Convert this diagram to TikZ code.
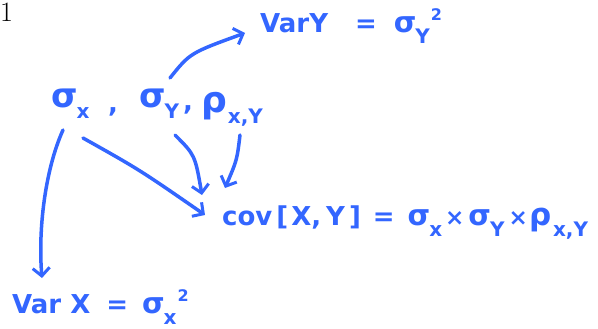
\documentclass[tikz,border=0pt]{standalone}
\usepackage{fontspec}
\newfontfamily\hand{DejaVu Sans}
\usetikzlibrary{arrows.meta}
\definecolor{ink}{HTML}{3366FF}
\newcommand{\lsb}[1]{\kern-1pt\raisebox{-11pt}[0pt][8pt]{\fontsize{20}{20}\selectfont #1}}
\newcommand{\lsp}[1]{\kern1pt\raisebox{12pt}{\fontsize{16}{16}\selectfont #1}}
\newcommand{\bsig}{{\fontsize{34}{34}\selectfont σ}}
\newcommand{\msig}{{\fontsize{29}{29}\selectfont σ}}
\newcommand{\brho}{{\fontsize{36}{36}\selectfont ρ}}
\newcommand{\mrho}{{\fontsize{31}{31}\selectfont ρ}}
\newcommand{\stimes}{{\fontsize{23}{23}\selectfont ×}}
\begin{document}
\begin{tikzpicture}[x=1pt,y=-1pt,
  hw/.style={text=ink,font=\hand\bfseries\fontsize{26}{28}\selectfont,inner sep=0pt,anchor=base west},
  arr/.style={draw=ink,line width=3.5pt,line cap=round,-{Straight Barb[length=8pt,width=17pt,line width=3pt]}}]
\useasboundingbox (0,0) rectangle (598,329);
\node[font=\fontsize{28}{30}\selectfont\rmfamily,inner sep=0pt,anchor=base west] (one) at (0,22) {1};
\node[hw] (vary) at (260,33) {VarY\hspace{27pt}=\hspace{17pt}\msig\lsb{Y}\lsp{2}};
\node[hw] (sx) at (51,107) {\bsig\lsb{x}};
\node[hw] (c1) at (108,113) {,};
\node[hw] (sy) at (139,107) {\bsig\lsb{Y}};
\node[hw] (c2) at (183,111) {,};
\node[hw] (rho) at (201,113) {\brho\kern2pt\lsb{x,Y}};
\node[hw] (cov) at (222,225) {cov\kern4pt[\kern3pt X,\kern5pt Y\kern4pt]\hspace{12pt}=\hspace{13pt}\msig\lsb{x}\kern3pt\stimes\kern4pt\msig\lsb{Y}\kern4pt\stimes\kern2pt\mrho\kern2pt\lsb{x,Y}};
\node[hw] (varx) at (12,313) {Var X\hspace{16pt}=\hspace{14pt}\msig\lsb{x}\lsp{2}};
\draw[arr] ([shift={(12,23)}]sx.base west) .. controls +(-18,40) and +(-4,-48) .. ([shift={(30,-35)}]varx.base west);
\draw[arr] ([shift={(32,31)}]sx.base west) .. controls +(57,32) .. ([shift={(-17,-10)}]cov.base west);
\draw[arr] ([shift={(36,28)}]sy.base west) .. controls +(20,20) .. ([shift={(-20,-30)}]cov.base west);
\draw[arr] ([shift={(39,22)}]rho.base west) .. controls +(-3,25) .. ([shift={(3,-37)}]cov.base west);
\draw[arr] ([shift={(31,-29)}]sy.base west) .. controls +(20,-25) .. ([shift={(-15,0)}]vary.base west);
\end{tikzpicture}
\end{document}
